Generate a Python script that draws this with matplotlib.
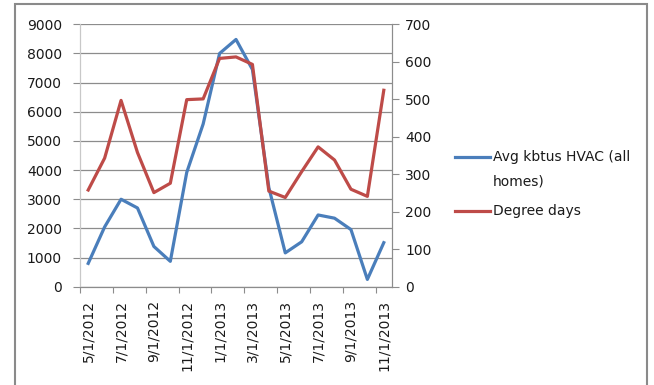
import numpy as np
import matplotlib
matplotlib.use('Agg')
import matplotlib.pyplot as plt
from matplotlib.lines import Line2D
from matplotlib.patches import Rectangle

months = ['5/1/2012', '6/1/2012', '7/1/2012', '8/1/2012', '9/1/2012', '10/1/2012',
          '11/1/2012', '12/1/2012', '1/1/2013', '2/1/2013', '3/1/2013', '4/1/2013',
          '5/1/2013', '6/1/2013', '7/1/2013', '8/1/2013', '9/1/2013', '10/1/2013',
          '11/1/2013']
kbtus_hvac = [800, 2050, 3000, 2700, 1380, 870, 3920, 5580, 8000, 8480, 7450, 3400,
              1160, 1540, 2460, 2350, 1960, 250, 1510]
degree_days = [258, 343, 497, 358, 251, 276, 499, 501, 609, 613, 593, 255,
               238, 307, 373, 338, 260, 241, 524]

label_hvac = 'Avg kbtus HVAC (all\nhomes)'
label_dd = 'Degree days'

blue = '#4A7EBB'
red = '#BE4B48'
grid_gray = '#8c8c8c'
text_col = '#1a1a1a'

plt.rcParams['font.family'] = 'DejaVu Sans'
plt.rcParams['font.size'] = 10

fig = plt.figure(figsize=(6.54, 3.85), dpi=100)
W, H = 654, 385

# chart area border
fig.add_artist(Rectangle((14.5 / W, -0.02), (647 - 14.5) / W, 1 - 4 / H + 0.02,
                         transform=fig.transFigure, fill=False,
                         edgecolor='#8a8a8a', lw=1.5))

ax = fig.add_axes([80 / W, 1 - 286.7 / H, 312 / W, (286.7 - 24.3) / H])
ax2 = ax.twinx()

x = np.arange(len(months))
ax.plot(x, kbtus_hvac, color=blue, lw=2.3, solid_joinstyle='round', zorder=3)
ax2.plot(x, degree_days, color=red, lw=2.3, solid_joinstyle='round', zorder=3)

ax.set_xlim(-0.5, len(months) - 0.5)
ax.set_ylim(0, 9000)
ax2.set_ylim(0, 700)
ax.set_yticks(np.arange(0, 9001, 1000))
ax2.set_yticks(np.arange(0, 701, 100))

ax.grid(axis='y', color=grid_gray, lw=0.9)
ax.set_axisbelow(True)

for a in (ax, ax2):
    a.spines['top'].set_visible(False)
    a.spines['left'].set_color('#c8c8c8')
    a.spines['right'].set_color(grid_gray)
    a.spines['bottom'].set_color(grid_gray)

ax.tick_params(axis='y', length=5, color=grid_gray, pad=8, labelcolor=text_col)
ax2.tick_params(axis='y', length=5, color=grid_gray, pad=4.5, labelcolor=text_col)

# tick marks between every second month, labels on the months themselves
ax.set_xticks(np.arange(-0.5, len(months) - 0.5, 2))
ax.set_xticklabels([])
ax.tick_params(axis='x', which='major', length=4, color=grid_gray)
ax.set_xticks(x[::2], minor=True)
ax.set_xticklabels(months[::2], minor=True, rotation=90)
ax.tick_params(axis='x', which='minor', length=0, pad=9.5, labelcolor=text_col)

# legend
fig.add_artist(Line2D([455 / W, 490 / W], [1 - 157 / H] * 2, transform=fig.transFigure,
                      color=blue, lw=2.3))
fig.add_artist(Line2D([455 / W, 490 / W], [1 - 211 / H] * 2, transform=fig.transFigure,
                      color=red, lw=2.3))
hv1, hv2 = label_hvac.split('\n')
fig.text(493 / W, 1 - 157 / H, hv1, va='center', ha='left', color=text_col)
fig.text(493 / W, 1 - 181 / H, hv2, va='center', ha='left', color=text_col)
fig.text(493 / W, 1 - 211 / H, label_dd, va='center', ha='left', color=text_col)

fig.savefig('out.png', dpi=100)
